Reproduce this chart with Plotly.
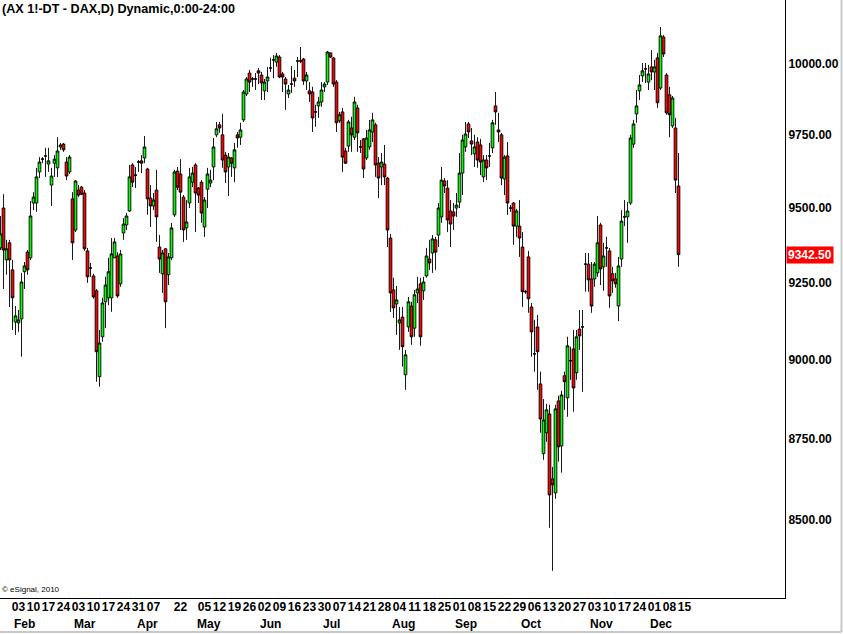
import math
import pandas as pd
import plotly.graph_objects as go

# ---------------- data ----------------
holidays = ["2014-04-18", "2014-04-21", "2014-05-01"]
dates = [d for d in pd.bdate_range("2014-01-28", "2014-12-15")
         if d.strftime("%Y-%m-%d") not in holidays]

opens = [
    9365, 9499, 9325, 9382, 9292, 9121, 9118, 9131, 9286, 9351,
    9332, 9516, 9516, 9622, 9666, 9677, 9649, 9577, 9652, 9636,
    9708, 9718, 9656, 9622, 9530, 9425, 9560, 9570, 9550, 9355,
    9298, 9272, 9223, 8945, 9073, 9187, 9200, 9200, 9332, 9338,
    9246, 9415, 9442, 9489, 9646, 9611, 9656, 9660, 9670, 9632,
    9533, 9506, 9560, 9368, 9279, 9362, 9276, 9332, 9476, 9625,
    9615, 9536, 9432, 9516, 9587, 9646, 9567, 9587, 9435, 9563,
    9584, 9639, 9750, 9785, 9750, 9680, 9639, 9670, 9636, 9750,
    9742, 9802, 9893, 9967, 9946, 9946, 9975, 9960, 9904, 9939,
    9985, 10014, 10006, 10024, 9964, 9946, 9893, 9928, 9949, 10010,
    10010, 10017, 9939, 9904, 9900, 9830, 9851, 9865, 9918, 9935,
    10039, 10021, 9935, 9799, 9830, 9694, 9711, 9774, 9742, 9844,
    9708, 9736, 9670, 9708, 9760, 9785, 9652, 9639, 9649, 9601,
    9398, 9226, 9180, 9118, 9137, 8951, 9105, 9173, 9101, 9216,
    9246, 9223, 9272, 9328, 9348, 9392, 9408, 9469, 9591, 9567,
    9489, 9486, 9499, 9519, 9618, 9708, 9788, 9729, 9684, 9725,
    9715, 9605, 9663, 9677, 9705, 9851, 9767, 9750, 9598, 9677,
    9499, 9516, 9438, 9438, 9368, 9220, 9335, 9170, 9018, 9105,
    8922, 8703, 8768, 8827, 8625, 8582, 8868, 8727, 8948, 8878,
    8996, 9034, 8958, 9098, 9105, 9311, 9311, 9262, 9262, 9282,
    9442, 9302, 9365, 9355, 9279, 9262, 9173, 9328, 9469, 9469,
    9516, 9718, 9823, 9904, 9957, 9982, 9935, 9989, 9971, 10021,
    9914, 10096, 9960, 9890, 9781, 9774, 9574,
]
highs = [
    9472, 9546, 9392, 9392, 9325, 9173, 9160, 9282, 9318, 9358,
    9523, 9553, 9636, 9673, 9673, 9705, 9705, 9636, 9680, 9742,
    9722, 9722, 9673, 9680, 9553, 9594, 9577, 9574, 9560, 9365,
    9315, 9279, 9229, 9095, 9200, 9269, 9332, 9398, 9398, 9351,
    9358, 9465, 9482, 9646, 9652, 9639, 9663, 9680, 9746, 9636,
    9577, 9550, 9629, 9408, 9358, 9365, 9348, 9449, 9629, 9639,
    9666, 9543, 9526, 9636, 9639, 9652, 9570, 9594, 9536, 9636,
    9629, 9739, 9795, 9795, 9823, 9691, 9687, 9673, 9722, 9760,
    9792, 9907, 9953, 9978, 9953, 9967, 9985, 9971, 9946, 9989,
    10021, 10031, 10039, 10031, 9971, 9953, 9925, 9992, 9978, 10024,
    10060, 10021, 9971, 9935, 9918, 9855, 9883, 9935, 9935, 10046,
    10039, 10024, 9942, 9830, 9844, 9705, 9802, 9813, 9883, 9855,
    9732, 9739, 9767, 9802, 9827, 9792, 9673, 9687, 9715, 9605,
    9412, 9266, 9239, 9170, 9170, 9031, 9203, 9187, 9226, 9269,
    9266, 9269, 9365, 9392, 9408, 9402, 9516, 9639, 9601, 9594,
    9526, 9516, 9550, 9687, 9750, 9795, 9795, 9774, 9750, 9742,
    9736, 9680, 9680, 9722, 9802, 9900, 9827, 9757, 9680, 9725,
    9509, 9519, 9496, 9526, 9418, 9226, 9355, 9183, 9128, 9144,
    8961, 8874, 8859, 8856, 8662, 8856, 8884, 8900, 8961, 9073,
    9041, 9095, 9095, 9160, 9160, 9348, 9348, 9318, 9318, 9472,
    9449, 9382, 9402, 9365, 9302, 9282, 9335, 9492, 9526, 9519,
    9750, 9802, 9907, 9960, 10003, 10003, 9996, 10049, 10014, 10039,
    10132, 10103, 9967, 9918, 9886, 9809, 9687,
]
lows = [
    9358, 9229, 9276, 9170, 9095, 9079, 9089, 9009, 9229, 9276,
    9325, 9492, 9486, 9601, 9652, 9605, 9622, 9506, 9605, 9605,
    9698, 9691, 9594, 9615, 9325, 9418, 9536, 9543, 9355, 9249,
    9269, 9197, 8929, 8913, 9057, 9101, 9176, 9154, 9332, 9200,
    9236, 9392, 9425, 9486, 9570, 9567, 9622, 9618, 9652, 9476,
    9435, 9492, 9385, 9282, 9216, 9101, 9242, 9325, 9469, 9560,
    9425, 9385, 9392, 9499, 9570, 9418, 9516, 9449, 9402, 9499,
    9570, 9594, 9742, 9757, 9636, 9584, 9540, 9605, 9587, 9705,
    9715, 9795, 9886, 9900, 9918, 9907, 9928, 9872, 9872, 9900,
    9971, 9949, 9989, 9949, 9900, 9837, 9879, 9897, 9918, 9953,
    10003, 9925, 9907, 9865, 9760, 9778, 9809, 9848, 9900, 9925,
    10021, 9918, 9760, 9792, 9622, 9649, 9691, 9691, 9732, 9691,
    9687, 9601, 9663, 9698, 9725, 9605, 9533, 9577, 9577, 9368,
    9154, 9134, 9079, 9031, 8977, 8903, 9089, 9047, 9073, 9183,
    9044, 9193, 9266, 9292, 9282, 9292, 9368, 9449, 9550, 9418,
    9368, 9425, 9469, 9499, 9543, 9691, 9739, 9680, 9639, 9636,
    9611, 9587, 9594, 9639, 9687, 9785, 9725, 9577, 9543, 9476,
    9486, 9375, 9402, 9335, 9170, 9213, 9151, 9009, 8961, 8903,
    8768, 8684, 8740, 8476, 8347, 8564, 8678, 8644, 8840, 8818,
    8935, 8834, 8935, 9031, 8897, 9220, 9220, 9151, 9236, 9269,
    9242, 9223, 9302, 9167, 9216, 9233, 9124, 9302, 9438, 9382,
    9509, 9705, 9792, 9872, 9935, 9932, 9907, 9942, 9907, 9844,
    9907, 10024, 9820, 9742, 9774, 9550, 9302,
]
closes = [
    9412, 9358, 9362, 9325, 9200, 9141, 9128, 9252, 9305, 9292,
    9472, 9536, 9605, 9656, 9666, 9677, 9660, 9608, 9666, 9694,
    9715, 9698, 9608, 9673, 9382, 9591, 9543, 9546, 9362, 9269,
    9298, 9203, 9025, 9053, 9183, 9242, 9286, 9345, 9385, 9206,
    9345, 9445, 9472, 9605, 9587, 9611, 9656, 9652, 9708, 9530,
    9506, 9526, 9469, 9328, 9348, 9187, 9335, 9432, 9622, 9570,
    9553, 9425, 9452, 9605, 9618, 9550, 9543, 9482, 9526, 9615,
    9594, 9708, 9771, 9774, 9663, 9622, 9673, 9652, 9698, 9739,
    9767, 9900, 9946, 9935, 9946, 9946, 9967, 9932, 9935, 9953,
    9985, 10014, 10028, 9953, 9953, 9928, 9907, 9928, 9939, 10010,
    10010, 9939, 9960, 9893, 9809, 9830, 9865, 9907, 9928, 10042,
    10024, 9928, 9792, 9820, 9673, 9652, 9795, 9750, 9865, 9757,
    9708, 9632, 9739, 9767, 9802, 9646, 9601, 9656, 9605, 9425,
    9216, 9167, 9193, 9128, 9041, 9015, 9187, 9073, 9210, 9229,
    9073, 9252, 9338, 9315, 9395, 9351, 9499, 9594, 9574, 9459,
    9445, 9472, 9509, 9618, 9732, 9753, 9760, 9718, 9708, 9663,
    9656, 9663, 9636, 9677, 9792, 9830, 9760, 9601, 9673, 9516,
    9499, 9438, 9489, 9398, 9220, 9220, 9197, 9089, 9018, 9025,
    8811, 8808, 8840, 8576, 8607, 8843, 8724, 8887, 8929, 9044,
    8996, 8909, 9073, 9076, 9105, 9311, 9259, 9173, 9311, 9382,
    9295, 9338, 9365, 9206, 9256, 9246, 9305, 9455, 9469, 9489,
    9739, 9788, 9851, 9925, 9975, 9982, 9964, 9971, 9989, 9862,
    10100, 10035, 9827, 9820, 9879, 9594, 9342.5,
]

tick_dates = [
    "2014-02-03", "2014-02-10", "2014-02-17", "2014-02-24",
    "2014-03-03", "2014-03-10", "2014-03-17", "2014-03-24", "2014-03-31",
    "2014-04-07", "2014-04-22",
    "2014-05-05", "2014-05-12", "2014-05-19", "2014-05-26",
    "2014-06-02", "2014-06-09", "2014-06-16", "2014-06-23", "2014-06-30",
    "2014-07-07", "2014-07-14", "2014-07-21", "2014-07-28",
    "2014-08-04", "2014-08-11", "2014-08-18", "2014-08-25",
    "2014-09-01", "2014-09-08", "2014-09-15", "2014-09-22", "2014-09-29",
    "2014-10-06", "2014-10-13", "2014-10-20", "2014-10-27",
    "2014-11-03", "2014-11-10", "2014-11-17", "2014-11-24",
    "2014-12-01", "2014-12-08", "2014-12-15",
]
month_names = ["Feb", "Mar", "Apr", "May", "Jun", "Jul", "Aug", "Sep", "Oct", "Nov", "Dec"]
y_ticks = [8500, 8750, 9000, 9250, 9500, 9750, 10000]
last_price = 9342.50
title_text = "(AX 1!-DT - DAX,D) Dynamic,0:00-24:00"

# ---------------- figure ----------------
date_str = [d.strftime("%Y-%m-%d") for d in dates]
xpos = list(range(len(dates)))
pos = {s: i for i, s in enumerate(date_str)}

FONT = "Liberation Sans, Arial, sans-serif"

fig = go.Figure()
fig.add_trace(go.Candlestick(
    x=xpos, open=opens, high=highs, low=lows, close=closes,
    increasing=dict(fillcolor="#00ff00", line=dict(color="black", width=0.9)),
    decreasing=dict(fillcolor="#ff0000", line=dict(color="black", width=0.9)),
    whiskerwidth=0, showlegend=False,
))

annotations = []
annotations.append(dict(x=0, y=1, xref="paper", yref="paper", xanchor="left", yanchor="top",
                        text=title_text, showarrow=False, yshift=0,
                        font=dict(family=FONT, size=12.6, color="black", weight="bold")))
annotations.append(dict(x=0, y=0, xref="paper", yref="paper", xanchor="left", yanchor="bottom",
                        text="© eSignal, 2010", showarrow=False, xshift=0, yshift=2,
                        font=dict(family=FONT, size=8, color="black")))
for m_i, name in enumerate(month_names):
    month_num = m_i + 2
    first = next(i for i, d in enumerate(dates) if d.month == month_num)
    annotations.append(dict(x=first, y=0, xref="x", yref="paper", xanchor="left", yanchor="middle",
                            yshift=-26, xshift=-1, text=name, showarrow=False,
                            font=dict(family=FONT, size=12, color="black", weight="bold")))
annotations.append(dict(x=1, y=math.log10(last_price), xref="paper", yref="y",
                        xanchor="left", yanchor="middle", xshift=1,
                        text=f"{last_price:.2f}", showarrow=False, bgcolor="#ff0000",
                        borderpad=1,
                        font=dict(family=FONT, size=12, color="white", weight="bold")))

shapes = [
    dict(type="line", xref="paper", yref="paper", x0=841.5 / 785, x1=841.5 / 785,
         y0=(598 - 632) / 598, y1=1.0, line=dict(color="#c8c8c8", width=2)),
    dict(type="line", xref="paper", yref="paper", x0=-0.01, x1=841.5 / 785,
         y0=(598 - 632) / 598, y1=(598 - 632) / 598, line=dict(color="#c8c8c8", width=2)),
]

fig.update_layout(
    width=843, height=634,
    margin=dict(l=0, r=58, t=0, b=36),
    paper_bgcolor="white", plot_bgcolor="white",
    showlegend=False,
    boxgap=0.05, boxgroupgap=0.05,
    annotations=annotations,
    shapes=shapes,
    xaxis=dict(
        range=[-1 / 6, 261.5],
        rangeslider=dict(visible=False),
        showgrid=False, zeroline=False,
        showline=True, linecolor="black", linewidth=1,
        tickvals=[pos[s] for s in tick_dates],
        ticktext=[s[-2:] for s in tick_dates],
        ticks="", tickangle=0, ticklabelshift=6, ticklabelstandoff=-2,
        tickfont=dict(family=FONT, size=12, color="black", weight="bold"),
    ),
    yaxis=dict(
        type="log",
        range=[math.log10(8266.7), math.log10(10229.9)],
        side="right",
        showgrid=False, zeroline=False,
        showline=True, linecolor="black", linewidth=1,
        tickvals=y_ticks,
        ticktext=[f"{v:.2f}" for v in y_ticks],
        ticks="",
        tickfont=dict(family=FONT, size=12, color="black", weight="bold"),
    ),
)

fig.write_html("out.html", config={"displayModeBar": False},
               post_script="document.body.style.margin='0px';document.body.style.overflow='hidden';")
